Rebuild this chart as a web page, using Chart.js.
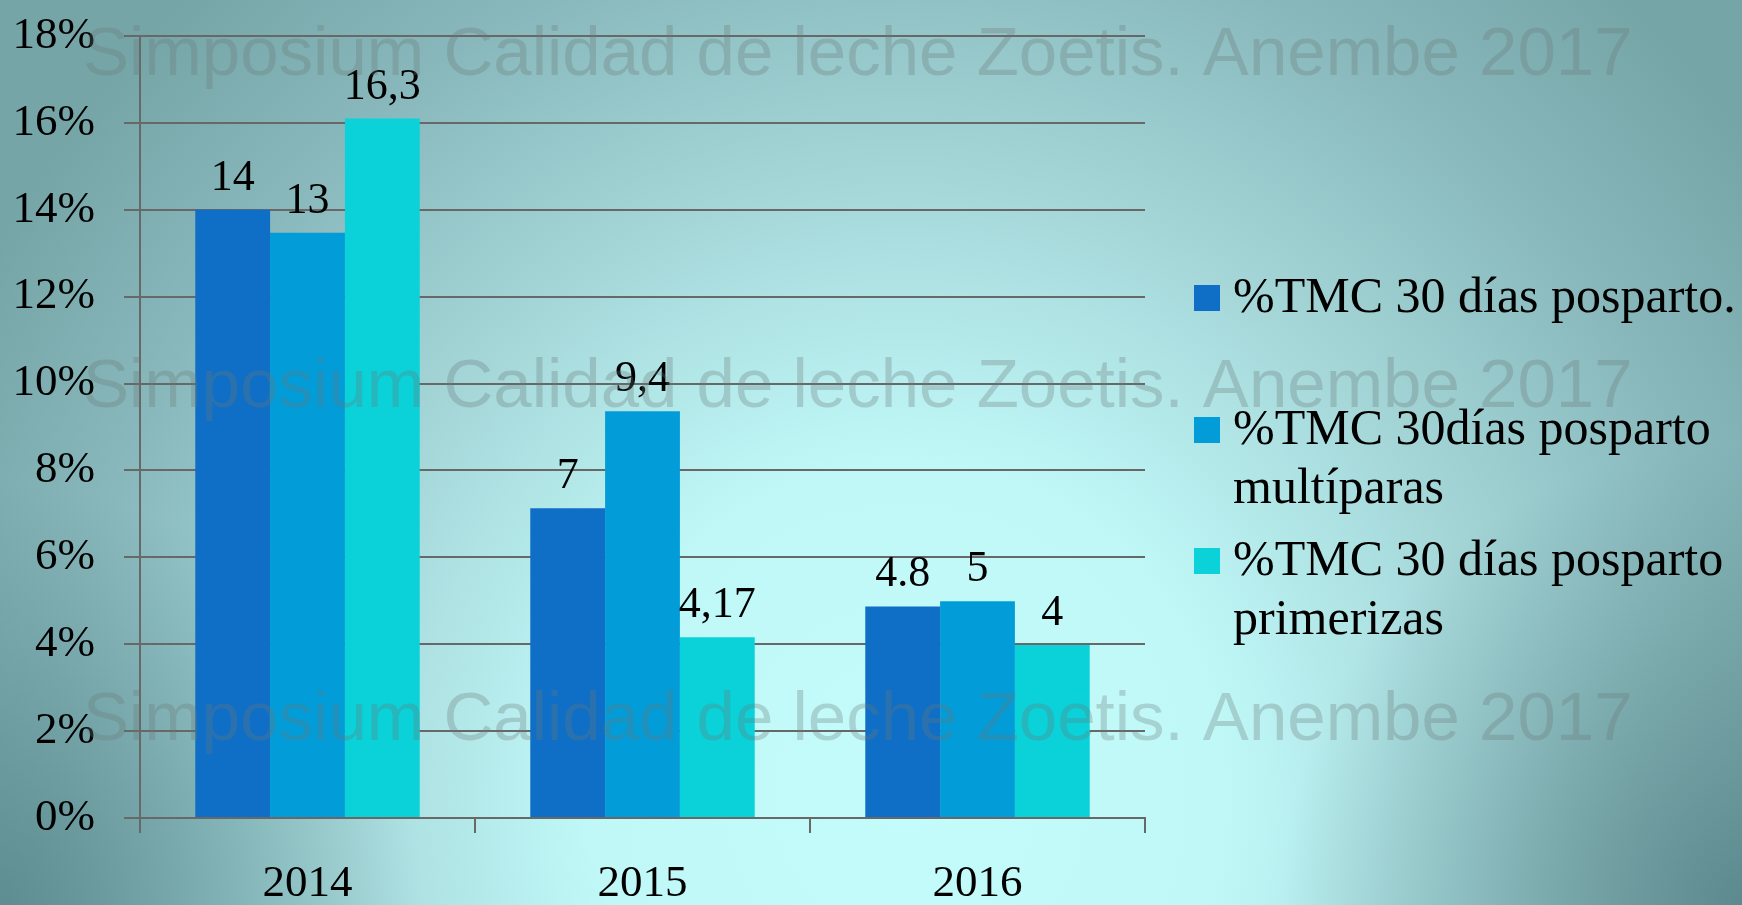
<!DOCTYPE html>
<html>
<head>
<meta charset="utf-8">
<script src="https://cdn.jsdelivr.net/npm/chart.js@4/dist/chart.umd.min.js"></script>
<style>
  html, body { margin: 0; padding: 0; }
  body {
    width: 1742px;
    height: 905px;
    overflow: hidden;
    background:
      radial-gradient(circle 420px at 0% 100%, rgba(78, 126, 130, 0.7), rgba(78, 126, 130, 0) 100%),
      radial-gradient(circle 460px at 100% 100%, rgba(78, 122, 126, 0.75), rgba(78, 122, 126, 0) 100%),
      radial-gradient(ellipse 1050px 1100px at 52% 88%, #c4fcfc 0%, #c0f8f8 30%, #a6d8da 55%, #88b8bb 80%, #76a5a8 100%);
  }
  #wrap { position: relative; width: 1742px; height: 905px; }
  #chart { position: absolute; left: 0; top: 0; }
  #legend { position: absolute; left: 1194px; top: 266px; }
  .item { position: relative; height: 131.5px; }
  .box { position: absolute; left: 0; top: 19px; width: 26px; height: 26px; }
  .txt {
    position: absolute; left: 39px; top: 0;
    font: 50px "Liberation Serif", serif; line-height: 59px;
    color: #000; white-space: nowrap;
  }
</style>
</head>
<body>
<div id="wrap">
  <canvas id="chart" width="1742" height="905"></canvas>
  <div id="legend"></div>
</div>
<script>
const categories = ['2014', '2015', '2016'];
const seriesLabels = [
  ['%TMC 30 días posparto.'],
  ['%TMC 30días posparto', 'multíparas'],
  ['%TMC 30 días posparto', 'primerizas']
];
const seriesColors = ['#0f6fc6', '#029dd8', '#0bd1d9'];
const totalValues = [14, 7.13, 4.87];
const multiparasValues = [13.47, 9.36, 4.99];
const primerizasValues = [16.1, 4.16, 3.98];
const totalTags = ['14', '7', '4.8'];
const multiparasTags = ['13', '9,4', '5'];
const primerizasTags = ['16,3', '4,17', '4'];
const yTicks = [0, 2, 4, 6, 8, 10, 12, 14, 16, 18];
const watermarkText = 'Simposium Calidad de leche Zoetis. Anembe 2017';

const AXIS_GREY = '#686868';
const SERIF = '"Liberation Serif", serif';

// value labels above each bar
const barTags = {
  id: 'barTags',
  afterDatasetsDraw(chart) {
    const { ctx } = chart;
    ctx.save();
    ctx.font = '44px ' + SERIF;
    ctx.fillStyle = '#000';
    ctx.textAlign = 'center';
    ctx.textBaseline = 'alphabetic';
    chart.data.datasets.forEach((ds, i) => {
      chart.getDatasetMeta(i).data.forEach((bar, j) => {
        ctx.fillText(ds.tags[j], bar.x, bar.y - 20);
      });
    });
    ctx.restore();
  }
};

// faint repeated watermark over the whole slide
const watermark = {
  id: 'watermark',
  afterDraw(chart) {
    const { ctx } = chart;
    ctx.save();
    ctx.font = '69px "Liberation Sans", sans-serif';
    ctx.fillStyle = 'rgba(105, 118, 118, 0.3)';
    ctx.textAlign = 'left';
    ctx.textBaseline = 'alphabetic';
    [75, 407, 740].forEach(y => ctx.fillText(watermarkText, 83, y));
    ctx.restore();
  }
};

const datasets = [
  { label: seriesLabels[0].join(' '), data: totalValues, tags: totalTags, backgroundColor: seriesColors[0] },
  { label: seriesLabels[1].join(' '), data: multiparasValues, tags: multiparasTags, backgroundColor: seriesColors[1] },
  { label: seriesLabels[2].join(' '), data: primerizasValues, tags: primerizasTags, backgroundColor: seriesColors[2] }
].map(d => ({ ...d, borderWidth: 0, barPercentage: 1, categoryPercentage: 0.67 }));

new Chart(document.getElementById('chart'), {
  type: 'bar',
  data: { labels: categories, datasets },
  options: {
    responsive: false,
    animation: false,
    devicePixelRatio: 1,
    layout: { padding: { top: 36, right: 597, left: 0, bottom: 0 } },
    plugins: { legend: { display: false }, tooltip: { enabled: false } },
    scales: {
      x: {
        afterFit(scale) {
          scale.height = 87;
          scale.paddingLeft = 0;
          scale.paddingRight = 0;
        },
        grid: {
          offset: true,
          drawOnChartArea: false,
          drawTicks: true,
          tickLength: 15,
          color: AXIS_GREY,
          lineWidth: 2
        },
        border: { display: true, color: AXIS_GREY, width: 2 },
        ticks: { color: '#000', font: { family: SERIF, size: 45 }, padding: 24, maxRotation: 0 }
      },
      y: {
        min: 0,
        max: 18,
        afterFit(scale) {
          scale.width = 140;
          scale.paddingTop = 0;
          scale.paddingBottom = 0;
        },
        afterBuildTicks(scale) { scale.ticks = yTicks.map(v => ({ value: v })); },
        grid: { color: AXIS_GREY, lineWidth: 2, drawTicks: true, tickLength: 16 },
        border: { display: true, color: AXIS_GREY, width: 2 },
        ticks: {
          color: '#000',
          font: { family: SERIF, size: 45 },
          padding: 29,
          callback: v => v + '%'
        }
      }
    }
  },
  plugins: [barTags, watermark]
});

// legend with wrapped lines, built from the series arrays
const legend = document.getElementById('legend');
seriesLabels.forEach((lines, i) => {
  const item = document.createElement('div');
  item.className = 'item';
  const box = document.createElement('div');
  box.className = 'box';
  box.style.background = seriesColors[i];
  const txt = document.createElement('div');
  txt.className = 'txt';
  txt.innerHTML = lines.join('<br>');
  item.appendChild(box);
  item.appendChild(txt);
  legend.appendChild(item);
});
</script>
</body>
</html>
